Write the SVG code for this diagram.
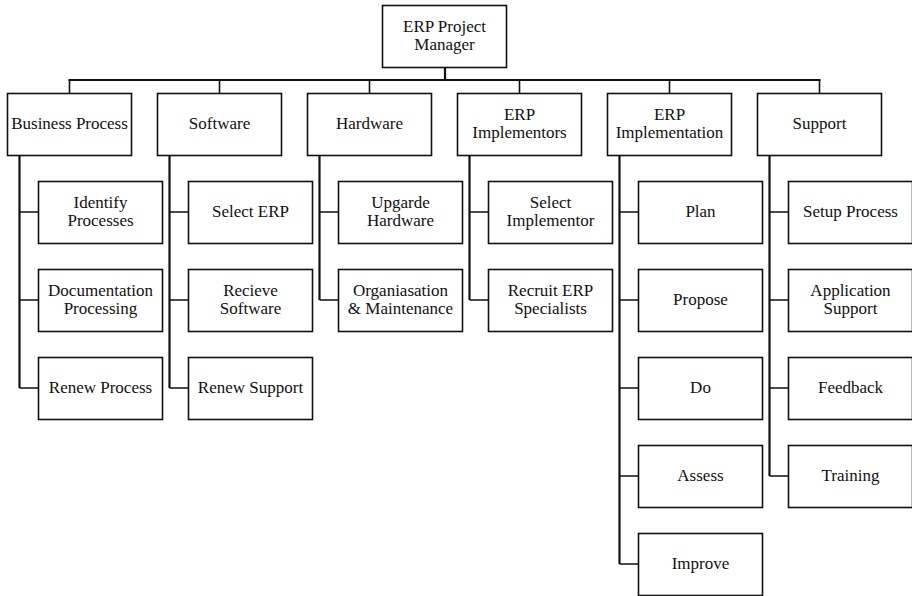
<svg xmlns="http://www.w3.org/2000/svg" width="912" height="596" viewBox="0 0 912 596">
<style>
.b{fill:#fff;stroke:#111;stroke-width:1.6}
.t{font-family:"Liberation Serif",serif;font-size:17px;fill:#111;text-anchor:middle}
.c{fill:none;stroke:#111;stroke-width:1.6}
.k{fill:none;stroke:#111;stroke-width:2.2}
</style>
<rect width="912" height="596" fill="#fff"/>
<g id="connectors">
<path class="k" d="M445 67V80M68.5 80H820.5"/>
<path class="c" d="M69.5 80V93M219.5 80V93M369.5 80V93M519.5 80V93M669.5 80V93M819.5 80V93"/>
<path class="k" d="M19.5 155V388M169.5 155V388M319.5 155V300M469.5 155V300M619.5 155V564M769.5 155V476"/>
<path class="c" d="M19.5 212H38M19.5 300H38M19.5 388H38M169.5 212H188M169.5 300H188M169.5 388H188M319.5 212H338M319.5 300H338M469.5 212H488M469.5 300H488M619.5 212H638M619.5 300H638M619.5 388H638M619.5 476H638M619.5 564H638M769.5 212H788M769.5 300H788M769.5 388H788M769.5 476H788"/>
</g>
<g id="root"><rect class="b" x="382.5" y="5.5" width="124" height="62"/><text class="t" x="444.5" y="32">ERP Project</text><text class="t" x="444.5" y="50">Manager</text></g>
<g id="business"><rect class="b" x="7.5" y="93.5" width="124" height="62"/><text class="t" x="69.5" y="129">Business Process</text></g>
<g id="software"><rect class="b" x="157.5" y="93.5" width="124" height="62"/><text class="t" x="219.5" y="129">Software</text></g>
<g id="hardware"><rect class="b" x="307.5" y="93.5" width="124" height="62"/><text class="t" x="369.5" y="129">Hardware</text></g>
<g id="implementors"><rect class="b" x="457.5" y="93.5" width="124" height="62"/><text class="t" x="519.5" y="120">ERP</text><text class="t" x="519.5" y="138">Implementors</text></g>
<g id="implementation"><rect class="b" x="607.5" y="93.5" width="124" height="62"/><text class="t" x="669.5" y="120">ERP</text><text class="t" x="669.5" y="138">Implementation</text></g>
<g id="support"><rect class="b" x="757.5" y="93.5" width="124" height="62"/><text class="t" x="819.5" y="129">Support</text></g>

<g id="identify"><rect class="b" x="38.5" y="181.5" width="124" height="62"/><text class="t" x="100.5" y="208">Identify</text><text class="t" x="100.5" y="226">Processes</text></g>
<g id="documentation"><rect class="b" x="38.5" y="269.5" width="124" height="62"/><text class="t" x="100.5" y="296">Documentation</text><text class="t" x="100.5" y="314">Processing</text></g>
<g id="renewprocess"><rect class="b" x="38.5" y="357.5" width="124" height="62"/><text class="t" x="100.5" y="393">Renew Process</text></g>

<g id="selecterp"><rect class="b" x="188.5" y="181.5" width="124" height="62"/><text class="t" x="250.5" y="217">Select ERP</text></g>
<g id="recieve"><rect class="b" x="188.5" y="269.5" width="124" height="62"/><text class="t" x="250.5" y="296">Recieve</text><text class="t" x="250.5" y="314">Software</text></g>
<g id="renewsupport"><rect class="b" x="188.5" y="357.5" width="124" height="62"/><text class="t" x="250.5" y="393">Renew Support</text></g>

<g id="upgarde"><rect class="b" x="338.5" y="181.5" width="124" height="62"/><text class="t" x="400.5" y="208">Upgarde</text><text class="t" x="400.5" y="226">Hardware</text></g>
<g id="organisation"><rect class="b" x="338.5" y="269.5" width="124" height="62"/><text class="t" x="400.5" y="296">Organiasation</text><text class="t" x="400.5" y="314">&amp; Maintenance</text></g>

<g id="selectimpl"><rect class="b" x="488.5" y="181.5" width="124" height="62"/><text class="t" x="550.5" y="208">Select</text><text class="t" x="550.5" y="226">Implementor</text></g>
<g id="recruit"><rect class="b" x="488.5" y="269.5" width="124" height="62"/><text class="t" x="550.5" y="296">Recruit ERP</text><text class="t" x="550.5" y="314">Specialists</text></g>

<g id="plan"><rect class="b" x="638.5" y="181.5" width="124" height="62"/><text class="t" x="700.5" y="217">Plan</text></g>
<g id="propose"><rect class="b" x="638.5" y="269.5" width="124" height="62"/><text class="t" x="700.5" y="305">Propose</text></g>
<g id="do"><rect class="b" x="638.5" y="357.5" width="124" height="62"/><text class="t" x="700.5" y="393">Do</text></g>
<g id="assess"><rect class="b" x="638.5" y="445.5" width="124" height="62"/><text class="t" x="700.5" y="481">Assess</text></g>
<g id="improve"><rect class="b" x="638.5" y="533.5" width="124" height="62"/><text class="t" x="700.5" y="569">Improve</text></g>

<g id="setup"><rect class="b" x="788.5" y="181.5" width="124" height="62"/><text class="t" x="850.5" y="217">Setup Process</text></g>
<g id="application"><rect class="b" x="788.5" y="269.5" width="124" height="62"/><text class="t" x="850.5" y="296">Application</text><text class="t" x="850.5" y="314">Support</text></g>
<g id="feedback"><rect class="b" x="788.5" y="357.5" width="124" height="62"/><text class="t" x="850.5" y="393">Feedback</text></g>
<g id="training"><rect class="b" x="788.5" y="445.5" width="124" height="62"/><text class="t" x="850.5" y="481">Training</text></g>
</svg>
